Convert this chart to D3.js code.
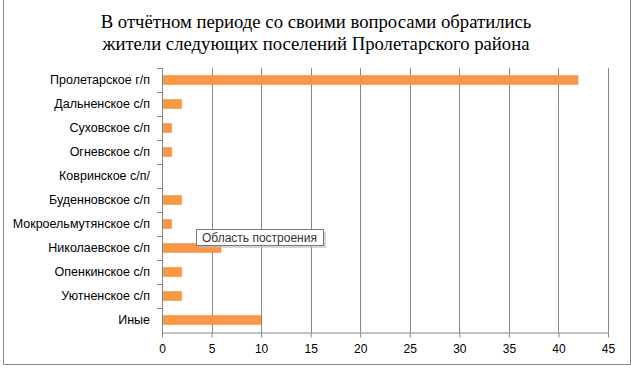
<!DOCTYPE html>
<html>
<head>
<meta charset="utf-8">
<script src="https://cdn.jsdelivr.net/npm/d3@7"></script>
<style>
  body { margin: 0; background: #fff; }
  svg text { font-family: "Liberation Sans", Arial, sans-serif; }
</style>
</head>
<body>
<div id="container"></div>
<script>
const WIDTH = 631;
const HEIGHT = 369;

// data
var categories = ["Пролетарское г/п", "Дальненское с/п", "Суховское с/п", "Огневское с/п",
    "Ковринское с/п/", "Буденновское с/п", "Мокроельмутянское с/п", "Николаевское с/п",
    "Опенкинское с/п", "Уютненское с/п", "Иные"];
var values = [42, 2, 1, 1, 0, 2, 1, 6, 2, 2, 10];
var xTicks = [0, 5, 10, 15, 20, 25, 30, 35, 40, 45];
var titleLines = ["В отчётном периоде со своими вопросами обратились",
    "жители следующих поселений Пролетарского района"];

var margin = { left: 162, right: 23, top: 68, bottom: 37 };
var gridColor = "#868686";

var drawChart = function () {
    var svg = d3.select("#container").append("svg")
        .attr("width", WIDTH)
        .attr("height", HEIGHT);

    // chart area border (top edge is cut off in the original)
    svg.append("path")
        .attr("d", "M3.5,0 V364.5 H630.5 V0")
        .attr("fill", "none")
        .attr("stroke", "#888")
        .attr("stroke-width", 1);

    svg.selectAll("text.title")
        .data(titleLines)
        .enter().append("text")
        .attr("class", "title")
        .attr("x", 316)
        .attr("y", function (d, i) { return 28 + i * 22; })
        .attr("text-anchor", "middle")
        .style("font-family", "'Liberation Serif', 'Times New Roman', serif")
        .style("font-size", "18.7px")
        .attr("fill", "#000")
        .text(function (d) { return d; });

    var x = d3.scaleLinear()
        .domain([0, 45])
        .range([margin.left, WIDTH - margin.right]);

    var y = d3.scaleBand()
        .domain(categories)
        .range([margin.top, HEIGHT - margin.bottom])
        .paddingInner(0.6)
        .paddingOuter(0.3);

    var plotTop = margin.top;
    var plotBottom = HEIGHT - margin.bottom;

    // vertical gridlines
    svg.append("g")
        .selectAll("line")
        .data(xTicks.slice(1))
        .enter().append("line")
        .attr("x1", function (d) { return Math.round(x(d)) + 0.5; })
        .attr("x2", function (d) { return Math.round(x(d)) + 0.5; })
        .attr("y1", plotTop)
        .attr("y2", plotBottom)
        .attr("stroke", gridColor);

    // bars
    svg.append("g")
        .selectAll("rect")
        .data(values)
        .enter().append("rect")
        .attr("x", x(0))
        .attr("y", function (d, i) { return y(categories[i]); })
        .attr("width", function (d) { return x(d) - x(0); })
        .attr("height", y.bandwidth())
        .attr("fill", "#F79646");

    // x axis
    var xAxis = svg.append("g")
        .attr("transform", "translate(0," + (plotBottom + 0.5) + ")")
        .call(d3.axisBottom(x).tickValues(xTicks).tickSize(5).tickSizeOuter(0));
    xAxis.select(".domain").attr("stroke", gridColor);
    xAxis.selectAll(".tick line").attr("stroke", gridColor);
    xAxis.selectAll(".tick text")
        .attr("dy", "0.71em")
        .attr("y", 12)
        .style("font-size", "12px")
        .attr("fill", "#000");

    // y axis: line plus tick marks at category boundaries
    var yAxis = svg.append("g");
    yAxis.append("line")
        .attr("x1", x(0) + 0.5).attr("x2", x(0) + 0.5)
        .attr("y1", plotTop).attr("y2", plotBottom + 5)
        .attr("stroke", gridColor);
    var step = y.step();
    var bounds = d3.range(categories.length).map(function (i) { return plotTop + i * step; });
    yAxis.selectAll("line.tk")
        .data(bounds)
        .enter().append("line")
        .attr("class", "tk")
        .attr("x1", x(0) - 5).attr("x2", x(0))
        .attr("y1", function (d) { return Math.round(d) + 0.5; })
        .attr("y2", function (d) { return Math.round(d) + 0.5; })
        .attr("stroke", gridColor);
    yAxis.selectAll("text")
        .data(categories)
        .enter().append("text")
        .attr("x", 150)
        .attr("y", function (d) { return y(d) + y.bandwidth() / 2; })
        .attr("dy", "0.35em")
        .attr("text-anchor", "end")
        .style("font-size", "12.5px")
        .attr("fill", "#000")
        .text(function (d) { return d; });

    // hover tooltip seen in the picture
    var tip = svg.append("g").attr("transform", "translate(196,229)");
    tip.append("rect")
        .attr("x", 3).attr("y", 3)
        .attr("width", 127).attr("height", 16)
        .attr("fill", "#bbb").attr("opacity", 0.6);
    tip.append("rect")
        .attr("x", 0.5).attr("y", 0.5)
        .attr("width", 127).attr("height", 16)
        .attr("fill", "#fff")
        .attr("stroke", "#777");
    tip.append("text")
        .attr("x", 6).attr("y", 12.5)
        .style("font-size", "12px")
        .attr("fill", "#333")
        .text("Область построения");
};

window.onload = drawChart;
</script>
</body>
</html>
